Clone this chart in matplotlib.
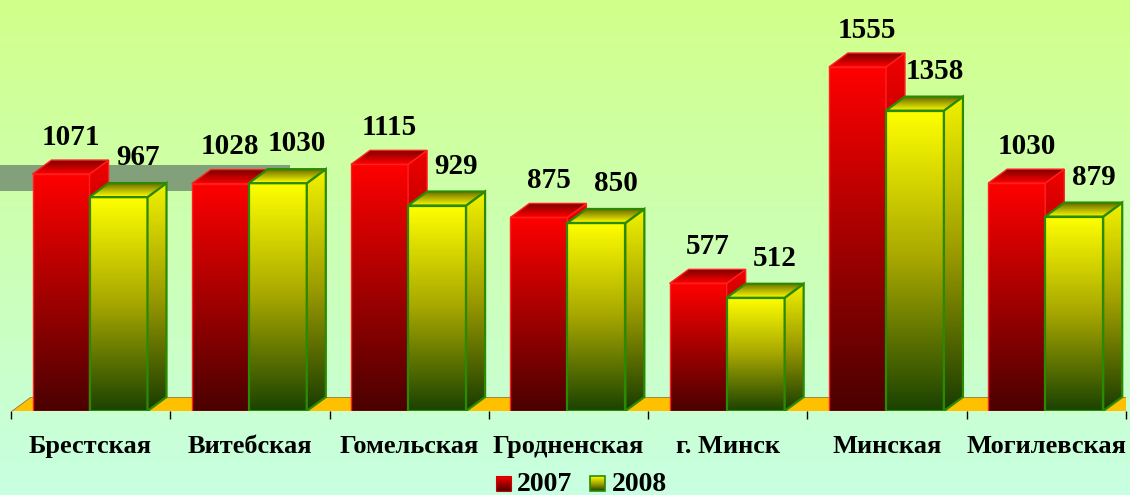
import numpy as np
import matplotlib
matplotlib.use("Agg")
import matplotlib.pyplot as plt
from matplotlib.patches import Polygon, Rectangle

# ---------------- data ----------------
categories = ["Брестская", "Витебская", "Гомельская", "Гродненская",
              "г. Минск", "Минская", "Могилевская"]
values_2007 = [1071, 1028, 1115, 875, 577, 1555, 1030]
values_2008 = [967, 1030, 929, 850, 512, 1358, 879]
series_names = ["2007", "2008"]

# ---------------- layout ----------------
W, H, DPI = 1130, 495, 100
FLOOR_PX = 411            # pixel row of the floor (from top)
LEFT_PX, RIGHT_PX = 11, 1126
PX_PER_UNIT = 0.2212      # pixels per value unit
CAT_PX = (RIGHT_PX - LEFT_PX) / len(categories)
DX = 19 / CAT_PX          # 3D depth in category units
DY = 14 / PX_PER_UNIT     # 3D depth in value units
RED_OFF, RED_W, YEL_W = 0.135, 0.358, 0.364

FONT = "Liberation Serif"

RED_FRONT = [(0, "#4a0000"), (1, "#ff0000")]
RED_SIDE = [(0, "#440000"), (1, "#f00000")]
RED_TOP = [(0, "#ff0000"), (1, "#7a0000")]
YEL_FRONT = [(0, "#1a4200"), (0.5, "#a6a600"), (1, "#ffff00")]
YEL_SIDE = [(0, "#183c00"), (0.5, "#9a9a00"), (1, "#f2f200")]
YEL_TOP = [(0, "#ffff00"), (1, "#6a6a00")]
RED_EDGE = "#ff2020"
YEL_EDGE = "#2a8a00"


def stops_to_img(stops, n=256):
    t = np.linspace(0, 1, n)
    pos = [s[0] for s in stops]
    rgb = np.array([matplotlib.colors.to_rgb(s[1]) for s in stops])
    img = np.stack([np.interp(t, pos, rgb[:, k]) for k in range(3)], axis=-1)
    return img[:, None, :]


def grad_poly(ax, verts, stops, z, ec, lw):
    poly = Polygon(verts, closed=True, facecolor="none", edgecolor=ec,
                   lw=lw, zorder=z + 0.5, joinstyle="miter")
    ax.add_patch(poly)
    xs = [v[0] for v in verts]
    ys = [v[1] for v in verts]
    im = ax.imshow(stops_to_img(stops), extent=[min(xs), max(xs), min(ys), max(ys)],
                   origin="lower", aspect="auto", zorder=z, interpolation="bilinear")
    im.set_clip_path(poly)


fig = plt.figure(figsize=(W / DPI, H / DPI), dpi=DPI)

# background
bg = fig.add_axes([0, 0, 1, 1], zorder=0)
bg_img = stops_to_img([(0, "#c8ffe2"), (0.5, "#ccffb4"), (1, "#d2ff8a")])
bg.imshow(bg_img, extent=[0, W, 0, H], origin="lower", aspect="auto",
          interpolation="bilinear")
bg.add_patch(Rectangle((0, H - 191), 290, 26, facecolor="#82a07a",
                       edgecolor="none"))
bg.set_xlim(0, W)
bg.set_ylim(0, H)
bg.axis("off")

# main axes
ax = fig.add_axes([LEFT_PX / W, (H - FLOOR_PX) / H,
                   (RIGHT_PX - LEFT_PX) / W, FLOOR_PX / H], zorder=1)
ax.patch.set_alpha(0)
n = len(categories)
ymax = FLOOR_PX / PX_PER_UNIT

# floor
ax.add_patch(Polygon([(0, 0), (n + DX, 0), (n + DX, DY), (DX, DY)], closed=True,
                     facecolor="#ffc000", edgecolor="#8a7a40", lw=0.6, zorder=1))

z = 2
for i, (v1, v2) in enumerate(zip(values_2007, values_2008)):
    # red bar
    x0 = i + RED_OFF
    x1 = x0 + RED_W
    grad_poly(ax, [(x0, 0), (x1, 0), (x1, v1), (x0, v1)], RED_FRONT, z, RED_EDGE, 1.0)
    grad_poly(ax, [(x1, 0), (x1 + DX, DY), (x1 + DX, v1 + DY), (x1, v1)], RED_SIDE,
              z + 1, RED_EDGE, 1.0)
    grad_poly(ax, [(x0, v1), (x1, v1), (x1 + DX, v1 + DY), (x0 + DX, v1 + DY)],
              RED_TOP, z + 2, RED_EDGE, 1.0)
    # yellow bar
    y0 = x1
    y1 = y0 + YEL_W
    grad_poly(ax, [(y0, 0), (y1, 0), (y1, v2), (y0, v2)], YEL_FRONT, z + 3, YEL_EDGE, 1.6)
    grad_poly(ax, [(y1, 0), (y1 + DX, DY), (y1 + DX, v2 + DY), (y1, v2)], YEL_SIDE,
              z + 4, YEL_EDGE, 1.6)
    grad_poly(ax, [(y0, v2), (y1, v2), (y1 + DX, v2 + DY), (y0 + DX, v2 + DY)],
              YEL_TOP, z + 5, YEL_EDGE, 1.6)
    z += 6

    ax.annotate(str(v1), xy=((x0 + x1) / 2, v1), xytext=(7, 21),
                textcoords="offset points", ha="center", va="baseline",
                fontsize=21, fontweight="bold", family=FONT, zorder=200,
                annotation_clip=False)
    ax.annotate(str(v2), xy=((y0 + y1) / 2, v2), xytext=(14, 23),
                textcoords="offset points", ha="center", va="baseline",
                fontsize=21, fontweight="bold", family=FONT, zorder=200,
                annotation_clip=False)

ax.set_xlim(0, n)
ax.set_ylim(0, ymax)
for s in ax.spines.values():
    s.set_visible(False)
ax.set_yticks([])
ax.set_xticks(range(n + 1))
ax.set_xticklabels([])
ax.set_xticks([i + 0.5 for i in range(n)], minor=True)
ax.set_xticklabels(categories, minor=True, fontsize=19, fontweight="bold",
                   family=FONT)
ax.tick_params(axis="x", which="major", length=5.5, width=1, color="black",
               direction="out")
ax.tick_params(axis="x", which="minor", length=0, pad=17)

# legend (in background pixel coords)
grad_poly(bg, [(496, 4), (511, 4), (511, 19), (496, 19)], RED_FRONT, 5, "#d00000", 0.8)
grad_poly(bg, [(590, 4), (605, 4), (605, 19), (590, 19)], YEL_FRONT, 5, YEL_EDGE, 1.2)
bg.text(517, 4, series_names[0], ha="left", va="baseline", fontsize=20,
        fontweight="bold", family=FONT)
bg.text(612, 4, series_names[1], ha="left", va="baseline", fontsize=20,
        fontweight="bold", family=FONT)
bg.set_xlim(0, W)
bg.set_ylim(0, H)

fig.savefig("out.png", dpi=DPI)
